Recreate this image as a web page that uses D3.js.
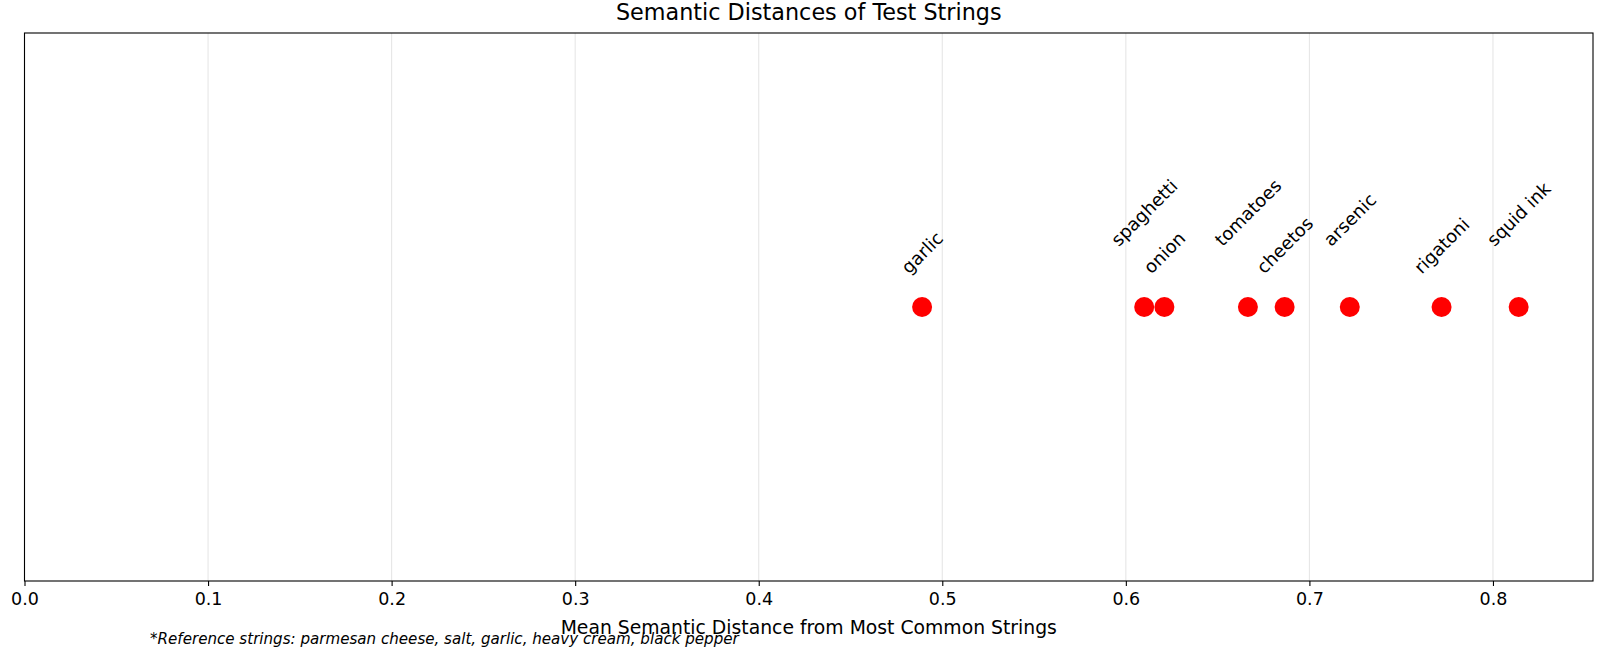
<!DOCTYPE html>
<html>
<head>
<meta charset="utf-8">
<script src="https://cdn.jsdelivr.net/npm/d3@7"></script>
<style>
  body { margin: 0; background: #fff; }
  svg { display: block; font-family: "DejaVu Sans", sans-serif; }
</style>
</head>
<body>
<div id="chart"></div>
<script>
// test strings and their mean semantic distance
const labels = ['garlic', 'spaghetti', 'onion', 'tomatoes', 'cheetos', 'arsenic', 'rigatoni', 'squid ink'];
const distances = [0.489, 0.610, 0.621, 0.6665, 0.6865, 0.722, 0.772, 0.814];
const xTicks = [0.0, 0.1, 0.2, 0.3, 0.4, 0.5, 0.6, 0.7, 0.8];
const xMax = 0.8545;

const title = 'Semantic Distances of Test Strings';
const xLabel = 'Mean Semantic Distance from Most Common Strings';
const footnote = '*Reference strings: parmesan cheese, salt, garlic, heavy cream, black pepper';

const width = 1600, height = 650;
const margin = { top: 33, right: 7, bottom: 69, left: 24.5 };

const svg = d3.select('#chart').append('svg')
  .attr('width', width).attr('height', height);

const x = d3.scaleLinear().domain([0, xMax]).range([margin.left, width - margin.right]);
const y = d3.scaleLinear().domain([-1, 1]).range([height - margin.bottom, margin.top]);

// grid lines
svg.append('g')
  .selectAll('line').data(xTicks).enter().append('line')
  .attr('x1', d => x(d)).attr('x2', d => x(d))
  .attr('y1', margin.top).attr('y2', height - margin.bottom)
  .attr('stroke', '#e6e6e6').attr('stroke-width', 1.1);

// x axis
const xAxis = svg.append('g')
  .attr('transform', `translate(0,${height - margin.bottom})`)
  .call(d3.axisBottom(x).tickValues(xTicks).tickFormat(d3.format('.1f')).tickSize(5).tickPadding(7).tickSizeOuter(0));
xAxis.select('.domain').remove();
xAxis.selectAll('.tick line').attr('stroke', '#000').attr('stroke-width', 1.1);
xAxis.selectAll('.tick text')
  .attr('fill', '#000')
  .style('font-size', '17.5px')
  .style('font-family', '"DejaVu Sans", sans-serif');

// frame
svg.append('rect')
  .attr('x', margin.left).attr('y', margin.top)
  .attr('width', width - margin.left - margin.right)
  .attr('height', height - margin.top - margin.bottom)
  .attr('fill', 'none').attr('stroke', '#000').attr('stroke-width', 1.1);

// points
const data = labels.map((l, i) => ({ label: l, value: distances[i] }));
svg.append('g')
  .selectAll('circle').data(data).enter().append('circle')
  .attr('cx', d => x(d.value))
  .attr('cy', y(0))
  .attr('r', 10)
  .attr('fill', '#ff0000');

// labels, alternating heights so neighbours don't collide
const offsets = [29.5, 57];
const lab = svg.append('g')
  .selectAll('text').data(data).enter().append('text')
  .style('font-size', '18px')
  .attr('fill', '#000')
  .attr('text-anchor', 'middle')
  .attr('dominant-baseline', 'central')
  .text(d => d.label);

lab.attr('transform', function (d, i) {
  const w = this.getComputedTextLength();
  const h = 18 * 1.16;
  const H = (w + h) / Math.SQRT2;
  const cy = y(0) - offsets[i % 2] - H / 2;
  return `translate(${x(d.value)},${cy}) rotate(-45)`;
});

// titles
svg.append('text')
  .attr('x', (margin.left + width - margin.right) / 2).attr('y', 20)
  .attr('text-anchor', 'middle')
  .style('font-size', '22.3px')
  .text(title);

svg.append('text')
  .attr('x', (margin.left + width - margin.right) / 2).attr('y', 634)
  .attr('text-anchor', 'middle')
  .style('font-size', '18.8px')
  .text(xLabel);

svg.append('text')
  .attr('x', 150).attr('y', 644)
  .style('font-size', '15.1px')
  .style('font-style', 'italic')
  .text(footnote);
</script>
</body>
</html>
